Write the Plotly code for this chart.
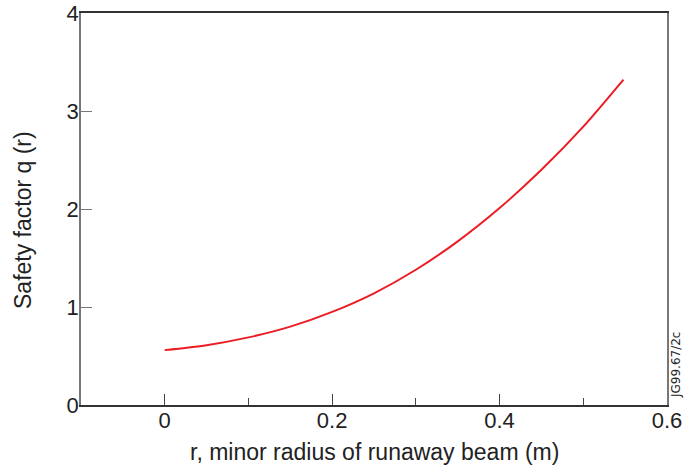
import plotly.graph_objects as go

r_vals = [0.0, 0.05, 0.10, 0.15, 0.20, 0.25, 0.30, 0.35, 0.40, 0.45, 0.50, 0.548]
q_vals = [0.56, 0.61, 0.69, 0.80, 0.95, 1.14, 1.38, 1.67, 2.01, 2.40, 2.84, 3.32]

x_ticks = [0, 0.2, 0.4, 0.6]
x_tick_labels = ["0", "0.2", "0.4", "0.6"]
y_ticks = [0, 1, 2, 3, 4]
y_tick_labels = ["0", "1", "2", "3", "4"]

x_title = "r, minor radius of runaway beam (m)"
y_title = "Safety factor q (r)"
figure_code = "JG99.67/2c"

font_family = "Liberation Sans, Arial, sans-serif"
text_color = "#222222"

fig = go.Figure()
fig.add_trace(go.Scatter(
    x=r_vals, y=q_vals, mode="lines",
    line=dict(color="#ec1c24", width=2, shape="spline", smoothing=0.8),
    showlegend=False, hoverinfo="skip",
))

fig.update_layout(
    width=684, height=468,
    margin=dict(l=81, r=17, t=13, b=63),
    paper_bgcolor="white", plot_bgcolor="white",
    font=dict(family=font_family, color=text_color, size=22),
    xaxis=dict(
        range=[-0.1, 0.6], tickvals=x_ticks, ticktext=x_tick_labels,
        ticks="inside", ticklen=11, tickwidth=1, tickcolor="#444444",
        minor=dict(dtick=0.1, tick0=0.1, ticks="inside", ticklen=7, tickwidth=1, tickcolor="#444444"),
        showline=True, linecolor="#333333", linewidth=1.5, mirror=True,
        showgrid=False, zeroline=False, automargin=False,
        ticklabelstandoff=-5,
        tickfont=dict(size=22, family=font_family, color=text_color),
    ),
    yaxis=dict(
        range=[0, 4], tickvals=y_ticks, ticktext=y_tick_labels,
        ticks="inside", ticklen=11, tickwidth=1, tickcolor="#777777",
        showline=True, linecolor="#777777", linewidth=1.5, mirror=True,
        showgrid=False, zeroline=False, automargin=False,
        ticklabelstandoff=-4,
        tickfont=dict(size=22, family=font_family, color=text_color),
    ),
    annotations=[
        dict(text=x_title, x=0.5, y=0, xref="paper", yref="paper",
             xanchor="center", yanchor="middle", yshift=-47, showarrow=False,
             font=dict(size=23, family=font_family, color=text_color)),
        dict(text=y_title, x=0, y=0.472, xref="paper", yref="paper",
             xanchor="center", yanchor="middle", xshift=-58, textangle=-90, showarrow=False,
             font=dict(size=23, family=font_family, color=text_color)),
        dict(text=figure_code, x=1.0, y=0.0, xref="paper", yref="paper",
             xanchor="center", yanchor="middle", xshift=9, yshift=40,
             textangle=-90, showarrow=False,
             font=dict(size=12, family="DejaVu Sans, sans-serif", color=text_color)),
    ],
)

fig.write_html(
    "out.html",
    config={"displayModeBar": False},
    post_script="document.body.style.margin='0';document.body.style.overflow='hidden';",
)
